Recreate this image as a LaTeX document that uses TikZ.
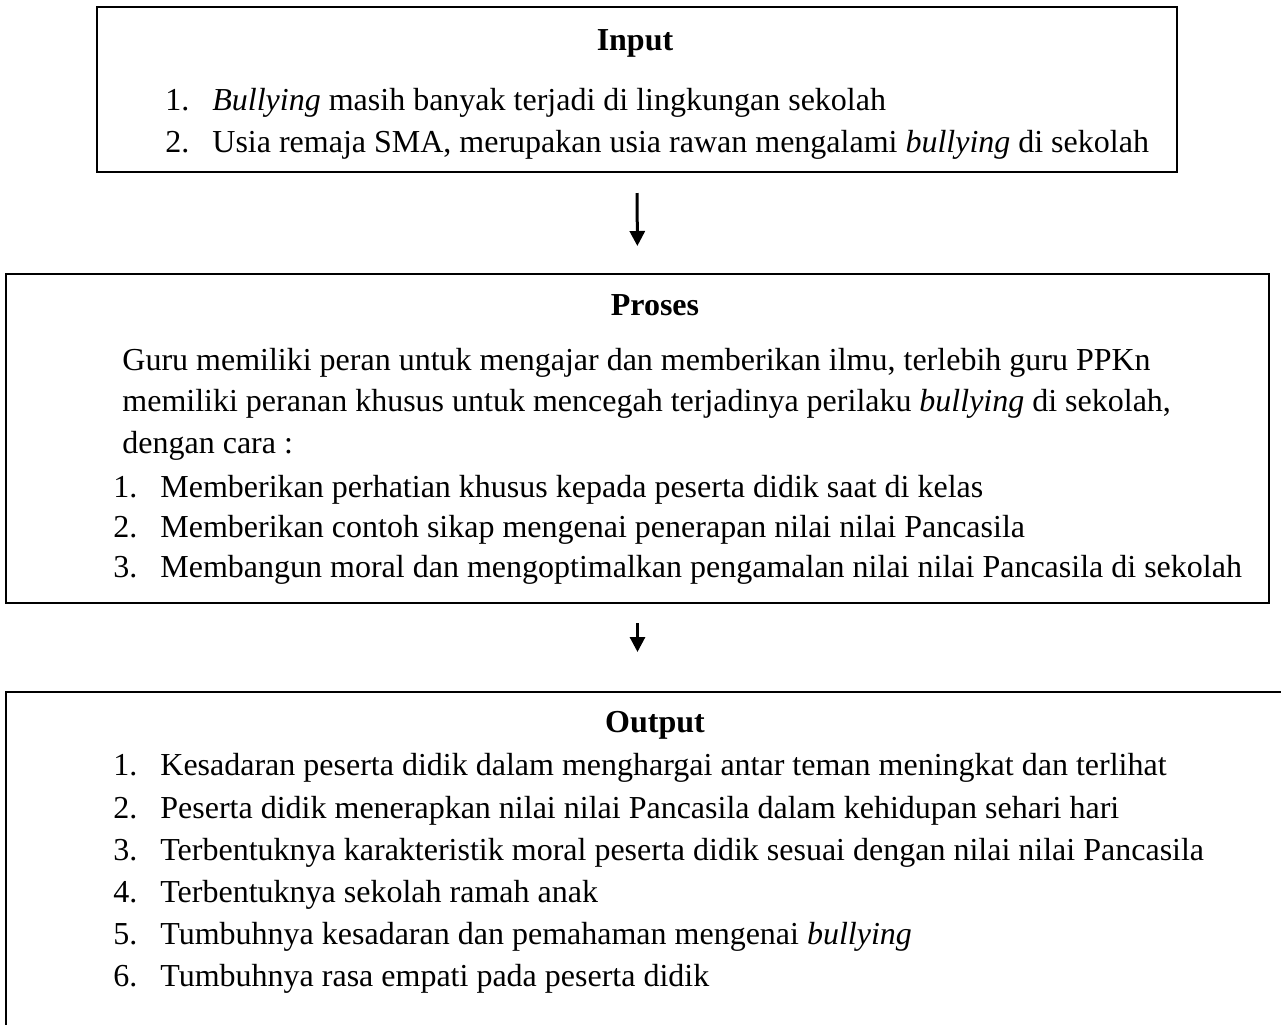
\documentclass[tikz,border=0pt]{standalone}
\usepackage{fontspec}
\setmainfont{Liberation Serif}
\usepackage{tikz}
\usetikzlibrary{arrows.meta, positioning}

\begin{document}
\begin{tikzpicture}[
  x=0.5pt, y=-0.5pt,
  every node/.style={font=\fontsize{16}{19}\selectfont},
  box/.style={
    rectangle, draw=black, line width=1pt, inner sep=0pt
  },
  line/.style={anchor=base west, inner sep=0pt},
  title/.style={anchor=base, inner sep=0pt, font=\fontsize{16}{19}\selectfont\bfseries},
  arrow/.style={-{Triangle[width=7.5pt, length=7.5pt]}, line width=1.5pt}
]
\clip (0,0) rectangle (1281,1024);

% --- Input ---
\node[box, minimum width=540pt, minimum height=82.5pt]  (inbox) at (637,89.5) {};
\node[title] (intitle) at (635,50) {Input};
\node[line] (in1n) at (165,110) {1.};
\node[line] (in1)  at (212,110) {\emph{Bullying} masih banyak terjadi di lingkungan sekolah};
\node[line] (in2n) at (165,152) {2.};
\node[line] (in2)  at (212,152) {Usia remaja SMA, merupakan usia rawan mengalami \emph{bullying} di sekolah};

% --- Proses ---
\node[box, minimum width=631.5pt, minimum height=164.5pt] (prbox) at (637.5,438.5) {};
\node[title] (prtitle) at (655,315) {Proses};
\node[line] (prp1) at (122,370) {Guru memiliki peran untuk mengajar dan memberikan ilmu, terlebih guru PPKn};
\node[line] (prp2) at (122,411) {memiliki peranan khusus untuk mencegah terjadinya perilaku \emph{bullying} di sekolah,};
\node[line] (prp3) at (122,453) {dengan cara :};
\node[line] (pr1n) at (113,497) {1.};
\node[line] (pr1)  at (160,497) {Memberikan perhatian khusus kepada peserta didik saat di kelas};
\node[line] (pr2n) at (113,537) {2.};
\node[line] (pr2)  at (160,537) {Memberikan contoh sikap mengenai penerapan nilai nilai Pancasila};
\node[line] (pr3n) at (113,577) {3.};
\node[line] (pr3)  at (160,577) {Membangun moral dan mengoptimalkan pengamalan nilai nilai Pancasila di sekolah};

% --- Output ---
\node[box, minimum width=645pt, minimum height=180pt] (outbox) at (651,872) {};
\node[title] (outtitle) at (655,732) {Output};
\node[line] (out1n) at (113,775) {1.};
\node[line] (out1)  at (160,775) {Kesadaran peserta didik dalam menghargai antar teman meningkat dan terlihat};
\node[line] (out2n) at (113,818) {2.};
\node[line] (out2)  at (160,818) {Peserta didik menerapkan nilai nilai Pancasila dalam kehidupan sehari hari};
\node[line] (out3n) at (113,860) {3.};
\node[line] (out3)  at (160,860) {Terbentuknya karakteristik moral peserta didik sesuai dengan nilai nilai Pancasila};
\node[line] (out4n) at (113,902) {4.};
\node[line] (out4)  at (160,902) {Terbentuknya sekolah ramah anak};
\node[line] (out5n) at (113,944) {5.};
\node[line] (out5)  at (160,944) {Tumbuhnya kesadaran dan pemahaman mengenai \emph{bullying}};
\node[line] (out6n) at (113,986) {6.};
\node[line] (out6)  at (160,986) {Tumbuhnya rasa empati pada peserta didik};

% Arrows
\draw[arrow, shorten <=10pt, shorten >=13.5pt] (inbox.south) -- (prbox.north);
\draw[arrow, shorten <=9.5pt, shorten >=19.5pt] (prbox.south) -- (prbox.south |- outbox.north);

\end{tikzpicture}
\end{document}
